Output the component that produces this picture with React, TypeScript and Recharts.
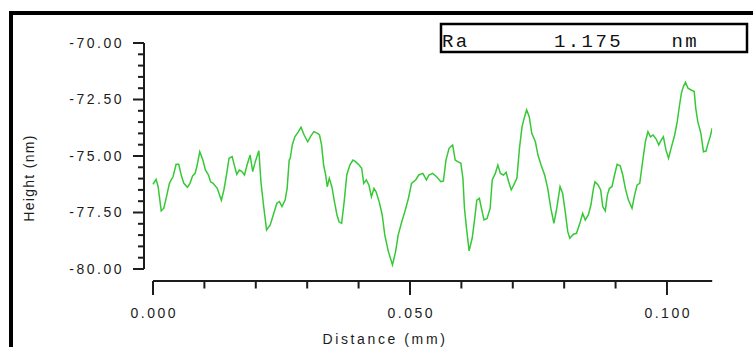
import { LineChart, Line, XAxis, YAxis, ReferenceLine, Label } from "recharts";

// profile: distance in mm, height in nm
const distance = [
  0.0, 0.0006, 0.001, 0.0016, 0.0021, 0.0027, 0.0032, 0.0036, 0.0039, 0.0045,
  0.005, 0.0055, 0.006, 0.0067, 0.0072, 0.0077, 0.0082, 0.0086, 0.0091, 0.0097,
  0.0102, 0.0108, 0.0112, 0.0117, 0.0125, 0.0133, 0.0138, 0.0143, 0.0148, 0.0154,
  0.0159, 0.0163, 0.0168, 0.0173, 0.0178, 0.0183, 0.0189, 0.0194, 0.0199, 0.0206,
  0.021, 0.0215, 0.0221, 0.0228, 0.0234, 0.0241, 0.0246, 0.0251, 0.0257, 0.0261,
  0.0265, 0.0267, 0.0271, 0.0276, 0.0283, 0.0288, 0.0294, 0.0301, 0.0307, 0.0313,
  0.032, 0.0324, 0.0328, 0.0332, 0.0336, 0.0339, 0.0343, 0.0348, 0.0353, 0.0358,
  0.0362, 0.0367, 0.0372, 0.0377, 0.0383, 0.0389, 0.0394, 0.0401, 0.0406, 0.041,
  0.0415, 0.042, 0.0425, 0.043, 0.0434, 0.044, 0.0446, 0.0451, 0.0458, 0.0466,
  0.0472, 0.0477, 0.0484, 0.049, 0.0497, 0.0503, 0.0511, 0.0517, 0.0525, 0.0532,
  0.0537, 0.0544, 0.0552, 0.056, 0.0565, 0.057, 0.0576, 0.0583, 0.0588, 0.0593,
  0.0599, 0.0603, 0.0606, 0.061, 0.0615, 0.0621, 0.0626, 0.063, 0.0635, 0.0639,
  0.0644, 0.065, 0.0656, 0.066, 0.0666, 0.0671, 0.0676, 0.0682, 0.0687, 0.0692,
  0.0697, 0.0702, 0.0708, 0.0713, 0.0718, 0.0723, 0.0727, 0.0732, 0.0737, 0.0744,
  0.0749, 0.0755, 0.0762, 0.0768, 0.0774, 0.078, 0.0785, 0.0792, 0.0797, 0.0802,
  0.0807, 0.0811, 0.0818, 0.0824, 0.0831, 0.0836, 0.0841, 0.0847, 0.0852, 0.0857,
  0.086, 0.0866, 0.0871, 0.0875, 0.088, 0.0884, 0.0888, 0.0893, 0.0898, 0.0903,
  0.0909, 0.0914, 0.0919, 0.0925, 0.0932, 0.0937, 0.0942, 0.0947, 0.0953, 0.0958,
  0.0963, 0.0968, 0.0973, 0.0979, 0.0984, 0.0989, 0.0993, 0.0998, 0.1003, 0.1008,
  0.1015, 0.102, 0.1024, 0.1028, 0.1032, 0.1036, 0.1041, 0.1047, 0.1053, 0.1056,
  0.106, 0.1066, 0.1071, 0.1076, 0.108, 0.1084, 0.1088,
];

const height = [
  -76.25, -76.03, -76.36, -77.43, -77.31, -76.73, -76.21, -76.03, -75.92, -75.37,
  -75.37, -75.84, -76.21, -76.38, -76.21, -75.88, -75.77, -75.4, -74.81, -75.18,
  -75.62, -75.84, -76.14, -76.21, -76.43, -76.96, -76.5, -75.84, -75.1, -75.03,
  -75.47, -75.81, -75.62, -75.69, -75.84, -75.4, -74.96, -75.69, -75.25, -74.77,
  -76.14, -77.17, -78.27, -78.05, -77.61, -77.09, -77.02, -77.24, -76.95, -76.43,
  -75.18, -75.1, -74.51, -74.15, -73.92, -73.73, -74.07, -74.37, -74.12, -73.92,
  -74.0, -74.07, -74.51, -75.4, -75.84, -76.36, -75.99, -76.36, -77.02, -77.61,
  -77.91, -77.98, -77.02, -75.84, -75.4, -75.18, -75.25, -75.4, -75.54, -76.21,
  -76.06, -76.28, -76.8, -76.43, -76.58, -77.02, -77.61, -78.5, -79.23, -79.82,
  -79.23, -78.5, -77.91, -77.46, -76.87, -76.21, -76.06, -75.84, -75.77, -76.06,
  -75.84, -75.77, -75.92, -76.14, -76.11, -75.18, -74.66, -74.51, -75.18, -75.25,
  -75.32, -75.99, -77.31, -78.2, -79.2, -78.64, -77.76, -76.95, -76.87, -77.31,
  -77.83, -77.76, -77.31, -76.06, -75.77, -75.4, -75.77, -75.84, -75.72, -76.14,
  -76.5, -76.28, -75.99, -74.66, -73.7, -73.26, -72.96, -73.26, -74.0, -74.37,
  -74.96, -75.4, -75.84, -76.43, -77.31, -77.98, -77.39, -76.36, -76.65, -77.46,
  -78.35, -78.64, -78.46, -78.42, -77.94, -77.54, -77.83, -77.61, -77.17, -76.43,
  -76.14, -76.28, -76.5, -77.24, -77.43, -76.73, -76.43, -76.36, -75.84, -75.37,
  -75.43, -75.84, -76.43, -76.95, -77.31, -76.73, -76.28, -76.21, -75.18, -74.37,
  -73.92, -74.15, -74.07, -74.25, -74.51, -74.29, -74.15, -74.73, -75.1, -74.66,
  -74.07, -73.48, -72.82, -72.23, -71.93, -71.74, -72.0, -72.08, -72.15, -72.89,
  -73.48, -74.0, -74.81, -74.78, -74.44, -74.15, -73.77,
];

const yTicks = [
  -80, -79.5, -79, -78.5, -78, -77.5, -77, -76.5, -76, -75.5, -75, -74.5, -74,
  -73.5, -73, -72.5, -72, -71.5, -71, -70.5, -70,
];
const yMajor = [-80, -77.5, -75, -72.5, -70];
const xTicks = [0, 0.01, 0.02, 0.03, 0.04, 0.05, 0.06, 0.07, 0.08, 0.09, 0.1];
const xMajor = [0, 0.05, 0.1];

const raLabel = "Ra";
const raValue = "1.175";
const raUnit = "nm";

const data = distance.map((d, i) => ({ d, h: height[i] }));

const AXIS = "#1c1c1c";
const SANS = "'Liberation Sans', Arial, sans-serif";
const MONO = "'Liberation Mono', 'Courier New', monospace";

const isMajor = (list: number[], v: number) => list.some((m) => Math.abs(m - v) < 1e-6);

function YTick(props: any) {
  const { x, y, payload } = props;
  const major = isMajor(yMajor, payload.value);
  return (
    <g>
      <line x1={x - (major ? 11 : 6)} x2={x} y1={y} y2={y} stroke={AXIS} strokeWidth={2} />
      {major && (
        <text
          x={x - 20}
          y={y + 5}
          textAnchor="end"
          fill={AXIS}
          style={{ fontFamily: SANS, fontSize: 14, letterSpacing: 2.5 }}
        >
          {payload.value.toFixed(2)}
        </text>
      )}
    </g>
  );
}

function XTick(props: any) {
  const { x, y, payload } = props;
  const major = isMajor(xMajor, payload.value);
  return (
    <g>
      <line x1={x} x2={x} y1={y} y2={y + (major ? 14 : 7.5)} stroke={AXIS} strokeWidth={2} />
      {major && (
        <text
          x={x + 1.25}
          y={y + 37}
          textAnchor="middle"
          fill={AXIS}
          style={{ fontFamily: SANS, fontSize: 14, letterSpacing: 2.5 }}
        >
          {payload.value.toFixed(3)}
        </text>
      )}
    </g>
  );
}

export default function App() {
  return (
    <div style={{ position: "absolute", left: 0, top: 0, width: 753, height: 347, background: "#fff" }}>
      <LineChart
        width={753}
        height={347}
        data={data}
        margin={{ top: 43, right: 40.8, bottom: 0, left: 0 }}
      >
        <XAxis
          dataKey="d"
          type="number"
          domain={[-0.00175, 0.1088]}
          ticks={xTicks}
          interval={0}
          height={66}
          axisLine={false}
          tickLine={false}
          tickSize={0}
          tickMargin={0}
          tick={XTick}
          allowDataOverflow
        >
          <Label
            content={() => (
              <text
                x={385}
                y={344}
                textAnchor="middle"
                fill={AXIS}
                style={{ fontFamily: SANS, fontSize: 14, letterSpacing: 2.6 }}
              >
                Distance (mm)
              </text>
            )}
          />
        </XAxis>
        <YAxis
          type="number"
          domain={[-80.531, -70]}
          ticks={yTicks}
          interval={0}
          width={144}
          axisLine={false}
          tickLine={false}
          tickSize={0}
          tickMargin={0}
          tick={YTick}
          allowDataOverflow
        >
          <Label
            content={() => (
              <text
                x={34}
                y={178}
                transform="rotate(-90 34 178)"
                textAnchor="middle"
                fill={AXIS}
                style={{ fontFamily: SANS, fontSize: 14, letterSpacing: 1.3 }}
              >
                Height (nm)
              </text>
            )}
          />
        </YAxis>
        <ReferenceLine
          segment={[
            { x: 0, y: -80.531 },
            { x: 0.1088, y: -80.531 },
          ]}
          stroke={AXIS}
          strokeWidth={2}
          ifOverflow="visible"
        />
        <ReferenceLine
          segment={[
            { x: -0.00175, y: -80 },
            { x: -0.00175, y: -70 },
          ]}
          stroke={AXIS}
          strokeWidth={2}
          ifOverflow="visible"
        />
        <Line
          type="linear"
          dataKey="h"
          stroke="#36c936"
          strokeWidth={1.5}
          dot={false}
          isAnimationActive={false}
        />
      </LineChart>
      <svg
        width={753}
        height={347}
        style={{ position: "absolute", left: 0, top: 0, pointerEvents: "none" }}
      >
        <rect x={9} y={11} width={744} height={4} fill="#000" />
        <rect x={9} y={11} width={4} height={336} fill="#000" />
        <rect x={441} y={24} width={306} height={28} fill="#fff" stroke="#000" strokeWidth={2.5} />
        <g fill="#111" style={{ fontFamily: MONO, fontSize: 19, letterSpacing: 2.4 }}>
          <text x={442} y={46.5}>{raLabel}</text>
          <text x={554} y={46.5}>{raValue}</text>
          <text x={671.5} y={46.5}>{raUnit}</text>
        </g>
      </svg>
    </div>
  );
}
